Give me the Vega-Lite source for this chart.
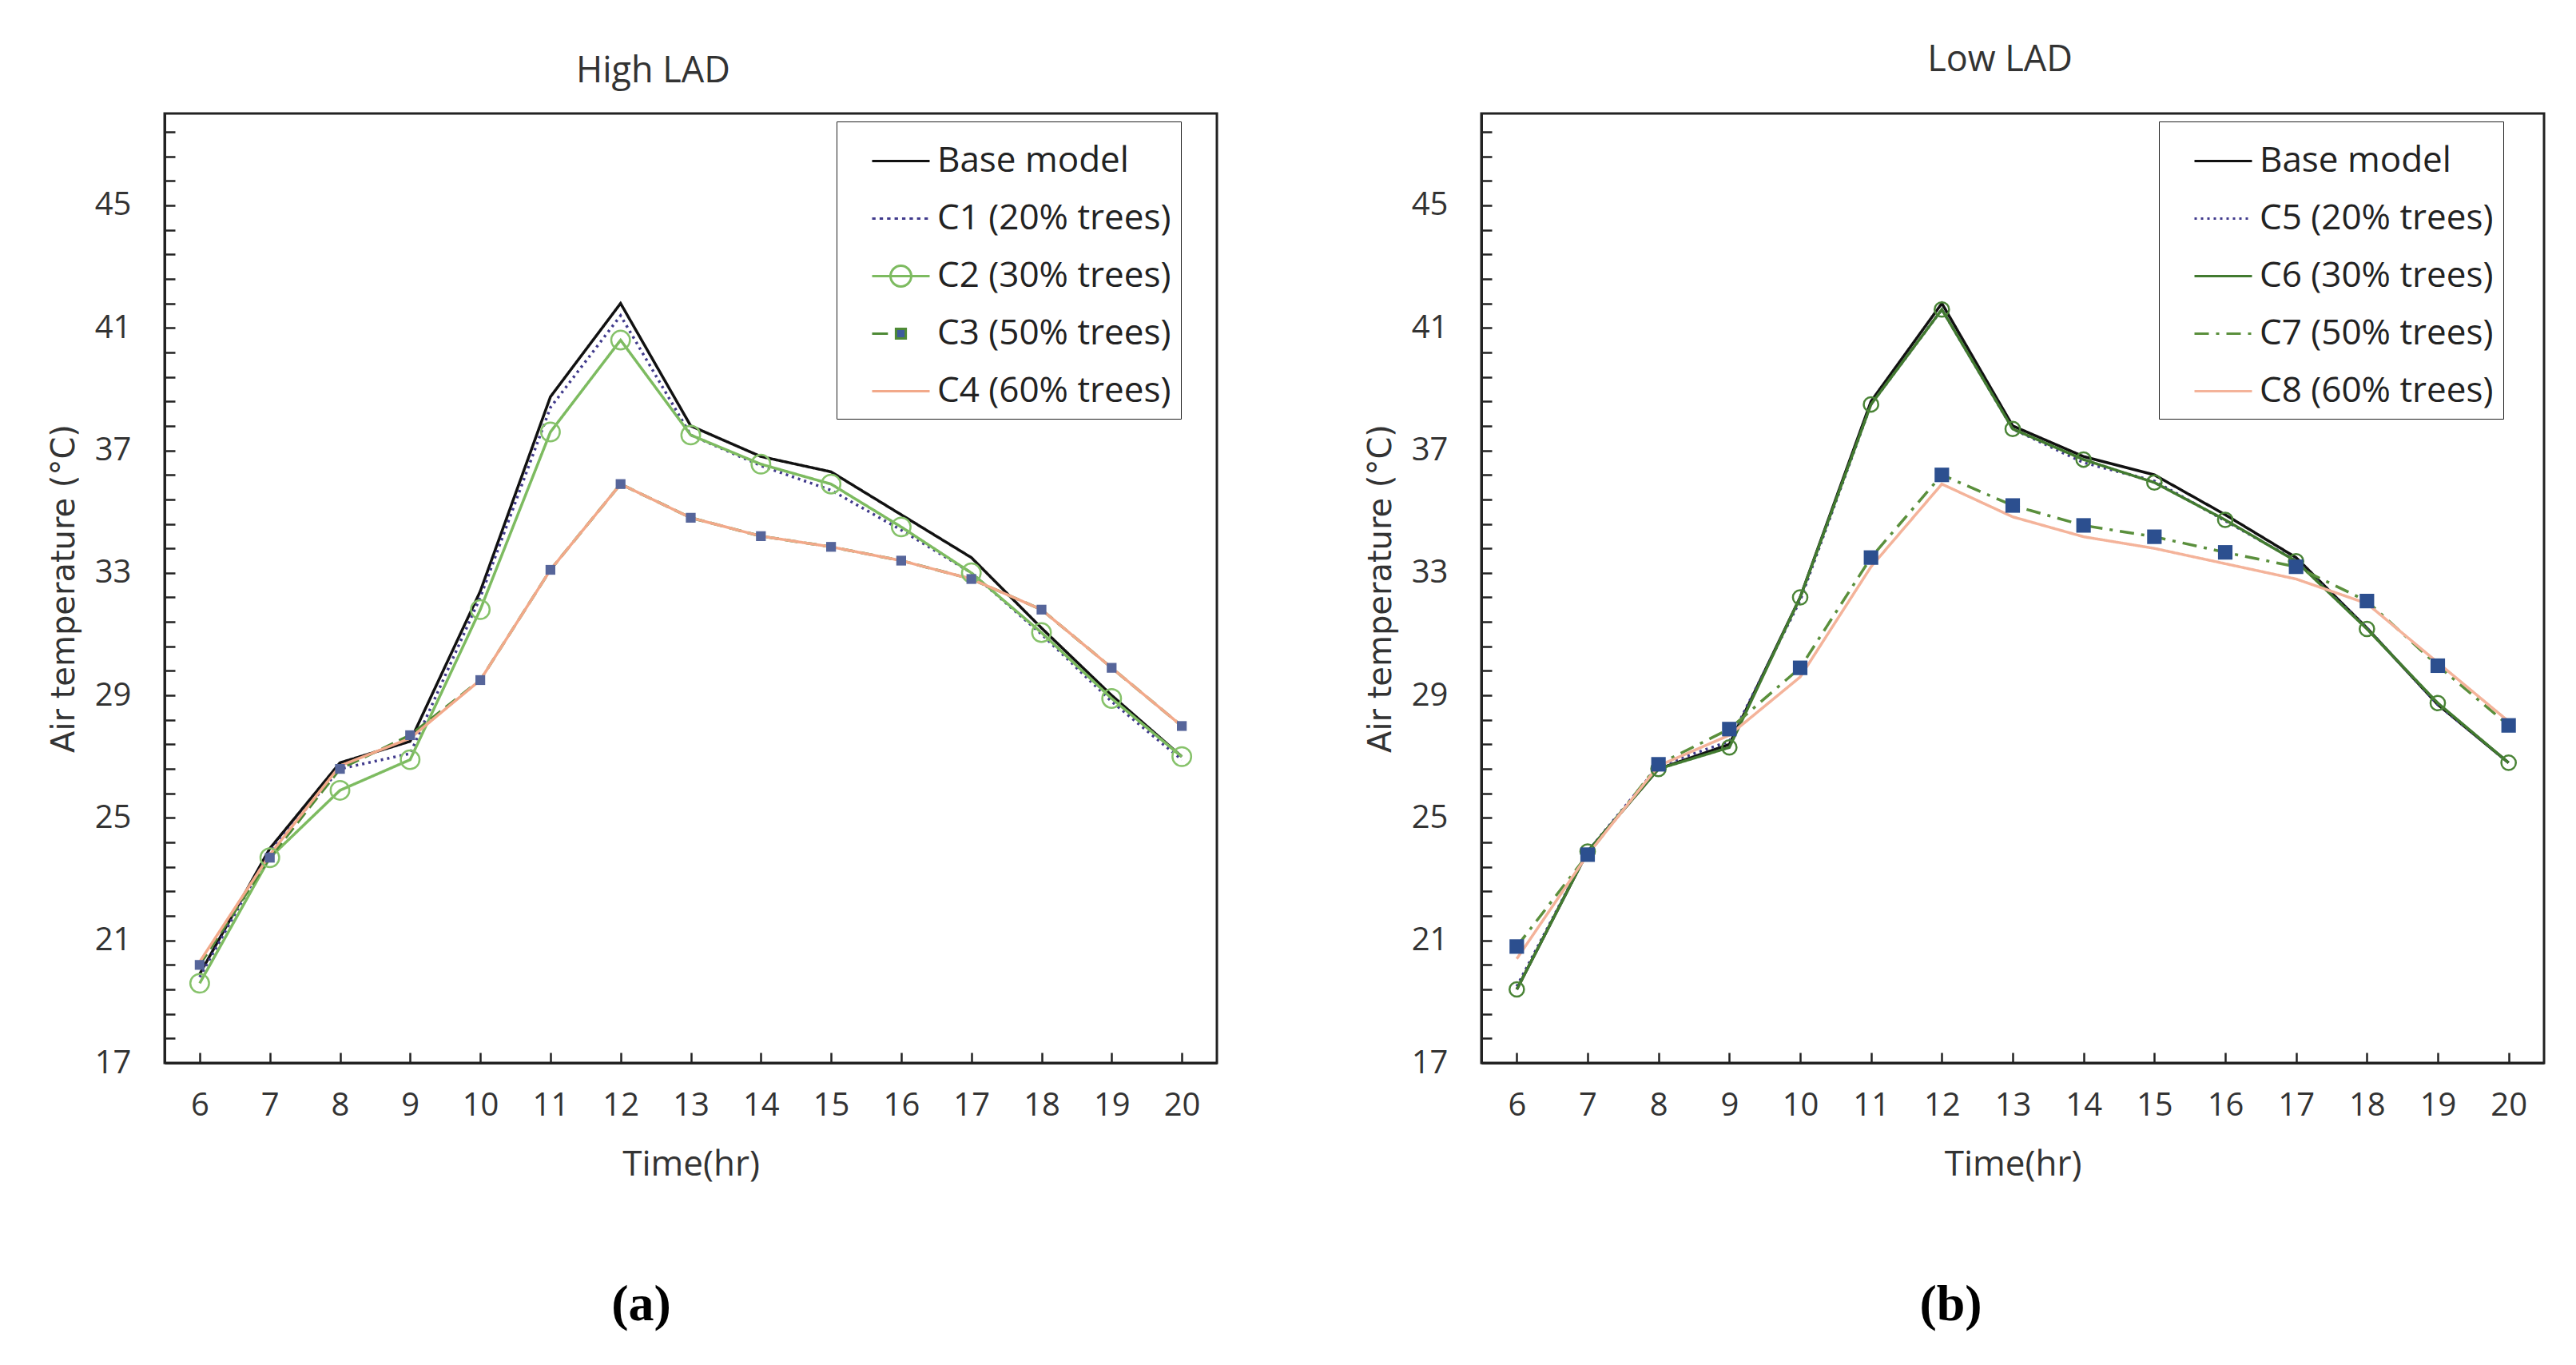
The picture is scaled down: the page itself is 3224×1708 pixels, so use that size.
{
  "$schema": "https://vega.github.io/schema/vega-lite/v6.json",
  "background": "white",
  "padding": {"left": 58, "top": 51, "right": 40, "bottom": 10},
  "bounds": "flush",
  "spacing": 331,
  "datasets": {
    "high": [
      {"series": "Base model", "hour": 6, "temp": 19.9}, {"series": "Base model", "hour": 7, "temp": 24.0}, {"series": "Base model", "hour": 8, "temp": 26.8}, {"series": "Base model", "hour": 9, "temp": 27.5}, {"series": "Base model", "hour": 10, "temp": 32.4}, {"series": "Base model", "hour": 11, "temp": 38.75}, {"series": "Base model", "hour": 12, "temp": 41.8}, {"series": "Base model", "hour": 13, "temp": 37.8}, {"series": "Base model", "hour": 14, "temp": 36.8}, {"series": "Base model", "hour": 15, "temp": 36.3}, {"series": "Base model", "hour": 16, "temp": 34.9}, {"series": "Base model", "hour": 17, "temp": 33.5}, {"series": "Base model", "hour": 18, "temp": 31.2}, {"series": "Base model", "hour": 19, "temp": 29.0}, {"series": "Base model", "hour": 20, "temp": 27.0},
      {"series": "C1 (20% trees)", "hour": 6, "temp": 19.8}, {"series": "C1 (20% trees)", "hour": 7, "temp": 23.9}, {"series": "C1 (20% trees)", "hour": 8, "temp": 26.6}, {"series": "C1 (20% trees)", "hour": 9, "temp": 27.1}, {"series": "C1 (20% trees)", "hour": 10, "temp": 32.2}, {"series": "C1 (20% trees)", "hour": 11, "temp": 38.4}, {"series": "C1 (20% trees)", "hour": 12, "temp": 41.4}, {"series": "C1 (20% trees)", "hour": 13, "temp": 37.5}, {"series": "C1 (20% trees)", "hour": 14, "temp": 36.5}, {"series": "C1 (20% trees)", "hour": 15, "temp": 35.7}, {"series": "C1 (20% trees)", "hour": 16, "temp": 34.4}, {"series": "C1 (20% trees)", "hour": 17, "temp": 33.0}, {"series": "C1 (20% trees)", "hour": 18, "temp": 31.0}, {"series": "C1 (20% trees)", "hour": 19, "temp": 28.8}, {"series": "C1 (20% trees)", "hour": 20, "temp": 26.9},
      {"series": "C2 (30% trees)", "hour": 6, "temp": 19.6}, {"series": "C2 (30% trees)", "hour": 7, "temp": 23.7}, {"series": "C2 (30% trees)", "hour": 8, "temp": 25.9}, {"series": "C2 (30% trees)", "hour": 9, "temp": 26.9}, {"series": "C2 (30% trees)", "hour": 10, "temp": 31.8}, {"series": "C2 (30% trees)", "hour": 11, "temp": 37.6}, {"series": "C2 (30% trees)", "hour": 12, "temp": 40.6}, {"series": "C2 (30% trees)", "hour": 13, "temp": 37.5}, {"series": "C2 (30% trees)", "hour": 14, "temp": 36.55}, {"series": "C2 (30% trees)", "hour": 15, "temp": 35.9}, {"series": "C2 (30% trees)", "hour": 16, "temp": 34.5}, {"series": "C2 (30% trees)", "hour": 17, "temp": 33.0}, {"series": "C2 (30% trees)", "hour": 18, "temp": 31.05}, {"series": "C2 (30% trees)", "hour": 19, "temp": 28.9}, {"series": "C2 (30% trees)", "hour": 20, "temp": 27.0},
      {"series": "C3 (50% trees)", "hour": 6, "temp": 20.2}, {"series": "C3 (50% trees)", "hour": 7, "temp": 23.7}, {"series": "C3 (50% trees)", "hour": 8, "temp": 26.6}, {"series": "C3 (50% trees)", "hour": 9, "temp": 27.7}, {"series": "C3 (50% trees)", "hour": 10, "temp": 29.5}, {"series": "C3 (50% trees)", "hour": 11, "temp": 33.1}, {"series": "C3 (50% trees)", "hour": 12, "temp": 35.9}, {"series": "C3 (50% trees)", "hour": 13, "temp": 34.8}, {"series": "C3 (50% trees)", "hour": 14, "temp": 34.2}, {"series": "C3 (50% trees)", "hour": 15, "temp": 33.85}, {"series": "C3 (50% trees)", "hour": 16, "temp": 33.4}, {"series": "C3 (50% trees)", "hour": 17, "temp": 32.8}, {"series": "C3 (50% trees)", "hour": 18, "temp": 31.8}, {"series": "C3 (50% trees)", "hour": 19, "temp": 29.9}, {"series": "C3 (50% trees)", "hour": 20, "temp": 28.0},
      {"series": "C4 (60% trees)", "hour": 6, "temp": 20.3}, {"series": "C4 (60% trees)", "hour": 7, "temp": 23.8}, {"series": "C4 (60% trees)", "hour": 8, "temp": 26.7}, {"series": "C4 (60% trees)", "hour": 9, "temp": 27.6}, {"series": "C4 (60% trees)", "hour": 10, "temp": 29.5}, {"series": "C4 (60% trees)", "hour": 11, "temp": 33.1}, {"series": "C4 (60% trees)", "hour": 12, "temp": 35.9}, {"series": "C4 (60% trees)", "hour": 13, "temp": 34.8}, {"series": "C4 (60% trees)", "hour": 14, "temp": 34.2}, {"series": "C4 (60% trees)", "hour": 15, "temp": 33.85}, {"series": "C4 (60% trees)", "hour": 16, "temp": 33.4}, {"series": "C4 (60% trees)", "hour": 17, "temp": 32.8}, {"series": "C4 (60% trees)", "hour": 18, "temp": 31.8}, {"series": "C4 (60% trees)", "hour": 19, "temp": 29.9}, {"series": "C4 (60% trees)", "hour": 20, "temp": 28.0}
    ],
    "low": [
      {"series": "Base model", "hour": 6, "temp": 19.4}, {"series": "Base model", "hour": 7, "temp": 23.9}, {"series": "Base model", "hour": 8, "temp": 26.6}, {"series": "Base model", "hour": 9, "temp": 27.4}, {"series": "Base model", "hour": 10, "temp": 32.2}, {"series": "Base model", "hour": 11, "temp": 38.6}, {"series": "Base model", "hour": 12, "temp": 41.8}, {"series": "Base model", "hour": 13, "temp": 37.8}, {"series": "Base model", "hour": 14, "temp": 36.8}, {"series": "Base model", "hour": 15, "temp": 36.2}, {"series": "Base model", "hour": 16, "temp": 34.9}, {"series": "Base model", "hour": 17, "temp": 33.5}, {"series": "Base model", "hour": 18, "temp": 31.2}, {"series": "Base model", "hour": 19, "temp": 28.7}, {"series": "Base model", "hour": 20, "temp": 26.8},
      {"series": "C5 (20% trees)", "hour": 6, "temp": 19.5}, {"series": "C5 (20% trees)", "hour": 7, "temp": 23.9}, {"series": "C5 (20% trees)", "hour": 8, "temp": 26.7}, {"series": "C5 (20% trees)", "hour": 9, "temp": 27.5}, {"series": "C5 (20% trees)", "hour": 10, "temp": 32.1}, {"series": "C5 (20% trees)", "hour": 11, "temp": 38.5}, {"series": "C5 (20% trees)", "hour": 12, "temp": 41.6}, {"series": "C5 (20% trees)", "hour": 13, "temp": 37.7}, {"series": "C5 (20% trees)", "hour": 14, "temp": 36.6}, {"series": "C5 (20% trees)", "hour": 15, "temp": 36.0}, {"series": "C5 (20% trees)", "hour": 16, "temp": 34.7}, {"series": "C5 (20% trees)", "hour": 17, "temp": 33.4}, {"series": "C5 (20% trees)", "hour": 18, "temp": 31.2}, {"series": "C5 (20% trees)", "hour": 19, "temp": 28.7}, {"series": "C5 (20% trees)", "hour": 20, "temp": 26.8},
      {"series": "C6 (30% trees)", "hour": 6, "temp": 19.4}, {"series": "C6 (30% trees)", "hour": 7, "temp": 23.9}, {"series": "C6 (30% trees)", "hour": 8, "temp": 26.6}, {"series": "C6 (30% trees)", "hour": 9, "temp": 27.3}, {"series": "C6 (30% trees)", "hour": 10, "temp": 32.2}, {"series": "C6 (30% trees)", "hour": 11, "temp": 38.5}, {"series": "C6 (30% trees)", "hour": 12, "temp": 41.6}, {"series": "C6 (30% trees)", "hour": 13, "temp": 37.7}, {"series": "C6 (30% trees)", "hour": 14, "temp": 36.7}, {"series": "C6 (30% trees)", "hour": 15, "temp": 35.95}, {"series": "C6 (30% trees)", "hour": 16, "temp": 34.73}, {"series": "C6 (30% trees)", "hour": 17, "temp": 33.38}, {"series": "C6 (30% trees)", "hour": 18, "temp": 31.17}, {"series": "C6 (30% trees)", "hour": 19, "temp": 28.75}, {"series": "C6 (30% trees)", "hour": 20, "temp": 26.8},
      {"series": "C7 (50% trees)", "hour": 6, "temp": 20.8}, {"series": "C7 (50% trees)", "hour": 7, "temp": 23.8}, {"series": "C7 (50% trees)", "hour": 8, "temp": 26.75}, {"series": "C7 (50% trees)", "hour": 9, "temp": 27.9}, {"series": "C7 (50% trees)", "hour": 10, "temp": 29.9}, {"series": "C7 (50% trees)", "hour": 11, "temp": 33.5}, {"series": "C7 (50% trees)", "hour": 12, "temp": 36.2}, {"series": "C7 (50% trees)", "hour": 13, "temp": 35.2}, {"series": "C7 (50% trees)", "hour": 14, "temp": 34.55}, {"series": "C7 (50% trees)", "hour": 15, "temp": 34.18}, {"series": "C7 (50% trees)", "hour": 16, "temp": 33.67}, {"series": "C7 (50% trees)", "hour": 17, "temp": 33.2}, {"series": "C7 (50% trees)", "hour": 18, "temp": 32.08}, {"series": "C7 (50% trees)", "hour": 19, "temp": 29.97}, {"series": "C7 (50% trees)", "hour": 20, "temp": 28.02},
      {"series": "C8 (60% trees)", "hour": 6, "temp": 20.4}, {"series": "C8 (60% trees)", "hour": 7, "temp": 23.8}, {"series": "C8 (60% trees)", "hour": 8, "temp": 26.7}, {"series": "C8 (60% trees)", "hour": 9, "temp": 27.7}, {"series": "C8 (60% trees)", "hour": 10, "temp": 29.6}, {"series": "C8 (60% trees)", "hour": 11, "temp": 33.2}, {"series": "C8 (60% trees)", "hour": 12, "temp": 35.9}, {"series": "C8 (60% trees)", "hour": 13, "temp": 34.83}, {"series": "C8 (60% trees)", "hour": 14, "temp": 34.18}, {"series": "C8 (60% trees)", "hour": 15, "temp": 33.8}, {"series": "C8 (60% trees)", "hour": 16, "temp": 33.3}, {"series": "C8 (60% trees)", "hour": 17, "temp": 32.8}, {"series": "C8 (60% trees)", "hour": 18, "temp": 32.0}, {"series": "C8 (60% trees)", "hour": 19, "temp": 30.07}, {"series": "C8 (60% trees)", "hour": 20, "temp": 28.15}
    ]
  },
  "hconcat": [
    {
      "width": 1317,
      "height": 1188,
      "data": {"name": "high"},
      "title": {"text": "High LAD", "anchor": "middle", "frame": "group", "dx": -47, "offset": -6, "baseline": "alphabetic", "font": "Open Sans", "fontSize": 45, "fontWeight": "normal", "color": "#333333"},
      "resolve": {"axis": {"x": "independent"}},
      "encoding": {
        "y": {"field": "temp", "type": "quantitative", "scale": {"domain": [17, 48], "nice": false, "zero": false},
              "axis": {"values": [17, 17.8, 18.6, 19.4, 20.2, 21, 21.8, 22.6, 23.4, 24.2, 25, 25.8, 26.6, 27.4, 28.2, 29, 29.8, 30.6, 31.4, 32.2, 33, 33.8, 34.6, 35.4, 36.2, 37, 37.8, 38.6, 39.4, 40.2, 41, 41.8, 42.6, 43.4, 44.2, 45, 45.8, 46.6, 47.4],
                       "labelExpr": "datum.value % 4 === 1 ? datum.label : ''", "labelOverlap": false, "title": "Air temperature (°C)", "labelPadding": 55, "titlePadding": 18, "titleFont": "DejaVu Sans", "titleFontSize": 40}}
      },
      "layer": [
        {
          "mark": {"type": "line", "strokeWidth": 3.5},
          "encoding": {
            "x": {"field": "hour", "type": "quantitative", "scale": {"domain": [5.5, 20.5], "nice": false, "zero": false},
                  "axis": {"values": [6, 7, 8, 9, 10, 11, 12, 13, 14, 15, 16, 17, 18, 19, 20], "format": "d", "title": "Time(hr)", "labelPadding": 46, "titlePadding": 32, "labelOverlap": false}},
            "color": {"field": "series", "type": "nominal",
                      "scale": {"domain": ["Base model", "C1 (20% trees)", "C2 (30% trees)", "C3 (50% trees)", "C4 (60% trees)", "C5 (20% trees)", "C6 (30% trees)", "C7 (50% trees)", "C8 (60% trees)"],
                                "range": ["#111111", "#403a8c", "#7dbb60", "#4e8a36", "#f2a98a", "#403a8c", "#427a30", "#5a8f3c", "#f4b39a"]},
                      "legend": {"title": null, "values": ["Base model", "C5 (20% trees)", "C6 (30% trees)", "C7 (50% trees)", "C8 (60% trees)"], "orient": "none", "legendX": 2496, "legendY": 10, "padding": 12, "rowPadding": 12, "symbolOffset": 31, "labelOffset": 8, "symbolSize": 5184, "symbolStrokeWidth": 3, "symbolOpacity": 1, "symbolStrokeColor": "#111111", "symbolFillColor": "transparent", "symbolType": "stroke", "labelFont": "Open Sans", "labelFontSize": 44, "labelColor": "#222222", "labelLimit": 600, "strokeColor": "#222222", "fillColor": "white"}},
            "strokeDash": {"field": "series", "type": "nominal",
                      "scale": {"domain": ["Base model", "C1 (20% trees)", "C2 (30% trees)", "C3 (50% trees)", "C4 (60% trees)", "C5 (20% trees)", "C6 (30% trees)", "C7 (50% trees)", "C8 (60% trees)"],
                                "range": [[1, 0], [3, 5], [1, 0], [16, 8], [1, 0], [3, 5], [1, 0], [18, 9, 4, 9], [1, 0]]},
                      "legend": {"title": null, "values": ["Base model", "C5 (20% trees)", "C6 (30% trees)", "C7 (50% trees)", "C8 (60% trees)"], "orient": "none", "legendX": 2496, "legendY": 10, "padding": 12, "rowPadding": 12, "symbolOffset": 31, "labelOffset": 8, "symbolSize": 5184, "symbolStrokeWidth": 3, "symbolOpacity": 1, "symbolStrokeColor": "#111111", "symbolFillColor": "transparent", "symbolType": "stroke", "labelFont": "Open Sans", "labelFontSize": 44, "labelColor": "#222222", "labelLimit": 600, "strokeColor": "#222222", "fillColor": "white"}}
          }
        },
        {
          "transform": [{"filter": "datum.series === 'C2 (30% trees)'"}],
          "mark": {"type": "point", "shape": "circle", "filled": false, "stroke": "#86c26a", "strokeWidth": 2.5, "size": 550, "opacity": 1},
          "encoding": {"x": {"field": "hour", "type": "quantitative", "axis": null}}
        },
        {
          "transform": [{"filter": "datum.series === 'C3 (50% trees)'"}],
          "mark": {"type": "square", "color": "#56659a", "size": 150, "opacity": 1},
          "encoding": {"x": {"field": "hour", "type": "quantitative", "axis": null}}
        },
        {
          "mark": {"type": "point", "opacity": 0},
          "encoding": {
            "x": {"field": "hour", "type": "quantitative",
                  "axis": {"orient": "bottom", "domain": false, "ticks": false, "labels": false, "title": "(a)", "titleFont": "Liberation Serif", "titleFontSize": 64, "titleFontWeight": "bold", "titleColor": "#000000", "titlePadding": 270, "titleX": 596}},
            "shape": {"field": "series", "type": "nominal",
                      "scale": {"domain": ["Base model", "C1 (20% trees)", "C2 (30% trees)", "C3 (50% trees)", "C4 (60% trees)"],
                                "range": ["M-1,0H1", "M-1,0H-0.88M-0.74,0H-0.62M-0.48,0H-0.36M-0.22,0H-0.1M0.04,0H0.16M0.3,0H0.42M0.56,0H0.68M0.82,0H0.94", "M-1,0H1M0.36,0A0.36,0.36,0,1,1,-0.36,0A0.36,0.36,0,1,1,0.36,0", "M-1,0H-0.45M-0.17,-0.17H0.17V0.17H-0.17Z", "M-1,0H1"]},
                      "legend": {"title": null, "orient": "none", "legendX": 841, "legendY": 10, "padding": 12, "rowPadding": 12, "symbolOffset": 31, "labelOffset": 8, "symbolSize": 5184, "symbolStrokeWidth": 3, "symbolOpacity": 1, "symbolStrokeColor": "#111111", "symbolFillColor": "transparent", "labelFont": "Open Sans", "labelFontSize": 44, "labelColor": "#222222", "labelLimit": 600, "strokeColor": "#222222", "fillColor": "white"}},
            "stroke": {"field": "series", "type": "nominal",
                      "scale": {"domain": ["Base model", "C1 (20% trees)", "C2 (30% trees)", "C3 (50% trees)", "C4 (60% trees)"],
                                "range": ["#111111", "#403a8c", "#7dbb60", "#4e8a36", "#f2a98a"]},
                      "legend": {"title": null, "orient": "none", "legendX": 841, "legendY": 10, "padding": 12, "rowPadding": 12, "symbolOffset": 31, "labelOffset": 8, "symbolSize": 5184, "symbolStrokeWidth": 3, "symbolOpacity": 1, "symbolStrokeColor": "#111111", "symbolFillColor": "transparent", "labelFont": "Open Sans", "labelFontSize": 44, "labelColor": "#222222", "labelLimit": 600, "strokeColor": "#222222", "fillColor": "white"}},
            "fill": {"field": "series", "type": "nominal",
                      "scale": {"domain": ["Base model", "C1 (20% trees)", "C2 (30% trees)", "C3 (50% trees)", "C4 (60% trees)"],
                                "range": ["transparent", "transparent", "transparent", "#3d5a9c", "transparent"]},
                      "legend": {"title": null, "orient": "none", "legendX": 841, "legendY": 10, "padding": 12, "rowPadding": 12, "symbolOffset": 31, "labelOffset": 8, "symbolSize": 5184, "symbolStrokeWidth": 3, "symbolOpacity": 1, "symbolStrokeColor": "#111111", "symbolFillColor": "transparent", "labelFont": "Open Sans", "labelFontSize": 44, "labelColor": "#222222", "labelLimit": 600, "strokeColor": "#222222", "fillColor": "white"}}
          }
        }
      ]
    },
    {
      "width": 1330,
      "height": 1188,
      "data": {"name": "low"},
      "title": {"text": "Low LAD", "anchor": "middle", "frame": "group", "dx": -16, "offset": 8, "baseline": "alphabetic", "font": "Open Sans", "fontSize": 45, "fontWeight": "normal", "color": "#333333"},
      "resolve": {"axis": {"x": "independent"}},
      "encoding": {
        "y": {"field": "temp", "type": "quantitative", "scale": {"domain": [17, 48], "nice": false, "zero": false},
              "axis": {"values": [17, 17.8, 18.6, 19.4, 20.2, 21, 21.8, 22.6, 23.4, 24.2, 25, 25.8, 26.6, 27.4, 28.2, 29, 29.8, 30.6, 31.4, 32.2, 33, 33.8, 34.6, 35.4, 36.2, 37, 37.8, 38.6, 39.4, 40.2, 41, 41.8, 42.6, 43.4, 44.2, 45, 45.8, 46.6, 47.4],
                       "labelExpr": "datum.value % 4 === 1 ? datum.label : ''", "labelOverlap": false, "title": "Air temperature (°C)", "labelPadding": 55, "titlePadding": 18, "titleFont": "DejaVu Sans", "titleFontSize": 40}}
      },
      "layer": [
        {
          "mark": {"type": "line", "strokeWidth": 3.5},
          "encoding": {
            "x": {"field": "hour", "type": "quantitative", "scale": {"domain": [5.5, 20.5], "nice": false, "zero": false},
                  "axis": {"values": [6, 7, 8, 9, 10, 11, 12, 13, 14, 15, 16, 17, 18, 19, 20], "format": "d", "title": "Time(hr)", "labelPadding": 46, "titlePadding": 32, "labelOverlap": false}},
            "color": {"field": "series", "type": "nominal",
                      "scale": {"domain": ["Base model", "C1 (20% trees)", "C2 (30% trees)", "C3 (50% trees)", "C4 (60% trees)", "C5 (20% trees)", "C6 (30% trees)", "C7 (50% trees)", "C8 (60% trees)"],
                                "range": ["#111111", "#403a8c", "#7dbb60", "#4e8a36", "#f2a98a", "#403a8c", "#427a30", "#5a8f3c", "#f4b39a"]},
                      "legend": {"title": null, "values": ["Base model", "C5 (20% trees)", "C6 (30% trees)", "C7 (50% trees)", "C8 (60% trees)"], "orient": "none", "legendX": 2496, "legendY": 10, "padding": 12, "rowPadding": 12, "symbolOffset": 31, "labelOffset": 8, "symbolSize": 5184, "symbolStrokeWidth": 3, "symbolOpacity": 1, "symbolStrokeColor": "#111111", "symbolFillColor": "transparent", "symbolType": "stroke", "labelFont": "Open Sans", "labelFontSize": 44, "labelColor": "#222222", "labelLimit": 600, "strokeColor": "#222222", "fillColor": "white"}},
            "strokeDash": {"field": "series", "type": "nominal",
                      "scale": {"domain": ["Base model", "C1 (20% trees)", "C2 (30% trees)", "C3 (50% trees)", "C4 (60% trees)", "C5 (20% trees)", "C6 (30% trees)", "C7 (50% trees)", "C8 (60% trees)"],
                                "range": [[1, 0], [3, 5], [1, 0], [16, 8], [1, 0], [3, 5], [1, 0], [18, 9, 4, 9], [1, 0]]},
                      "legend": {"title": null, "values": ["Base model", "C5 (20% trees)", "C6 (30% trees)", "C7 (50% trees)", "C8 (60% trees)"], "orient": "none", "legendX": 2496, "legendY": 10, "padding": 12, "rowPadding": 12, "symbolOffset": 31, "labelOffset": 8, "symbolSize": 5184, "symbolStrokeWidth": 3, "symbolOpacity": 1, "symbolStrokeColor": "#111111", "symbolFillColor": "transparent", "symbolType": "stroke", "labelFont": "Open Sans", "labelFontSize": 44, "labelColor": "#222222", "labelLimit": 600, "strokeColor": "#222222", "fillColor": "white"}}
          }
        },
        {
          "transform": [{"filter": "datum.series === 'C6 (30% trees)'"}],
          "mark": {"type": "point", "shape": "circle", "filled": false, "stroke": "#4a8436", "strokeWidth": 2.5, "size": 330, "opacity": 1},
          "encoding": {"x": {"field": "hour", "type": "quantitative", "axis": null}}
        },
        {
          "transform": [{"filter": "datum.series === 'C7 (50% trees)'"}],
          "mark": {"type": "square", "color": "#2c4f8f", "size": 330, "opacity": 1},
          "encoding": {"x": {"field": "hour", "type": "quantitative", "axis": null}}
        },
        {
          "mark": {"type": "point", "opacity": 0},
          "encoding": {
            "x": {"field": "hour", "type": "quantitative",
                  "axis": {"orient": "bottom", "domain": false, "ticks": false, "labels": false, "title": "(b)", "titleFont": "Liberation Serif", "titleFontSize": 64, "titleFontWeight": "bold", "titleColor": "#000000", "titlePadding": 270, "titleX": 587}}
          }
        }
      ]
    }
  ],
  "config": {
    "font": "Open Sans",
    "view": {"stroke": "#222222", "strokeWidth": 3},
    "axis": {"grid": false, "tickSize": -13, "tickWidth": 2.5, "tickColor": "#222222", "domainColor": "#222222", "domainWidth": 3,
             "labelFont": "Open Sans", "labelFontSize": 40, "labelColor": "#333333", "labelOverlap": false, "labelFlush": false,
             "titleFont": "Open Sans", "titleFontSize": 44, "titleFontWeight": "normal", "titleColor": "#333333"}
  }
}
